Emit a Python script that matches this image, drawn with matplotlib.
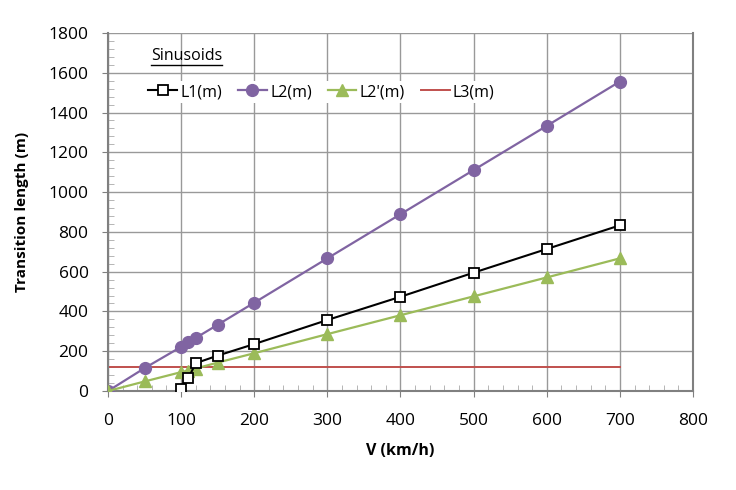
import matplotlib.pyplot as plt
from matplotlib.lines import Line2D
from matplotlib.ticker import MultipleLocator

# speeds (km/h)
v_l1 = [100, 110, 120, 150, 200, 300, 400, 500, 600, 700]
v_l2 = [0, 50, 100, 110, 120, 150, 200, 300, 400, 500, 600, 700]
v_l3 = [0, 700]

# transition lengths (m)
l1 = [10, 65, 140, 178, 236, 357, 474, 595, 714, 833]
l2 = [0, 115, 222, 244, 267, 333, 444, 667, 889, 1111, 1333, 1556]
l2p = [0, 48, 95, 103, 113, 143, 190, 286, 381, 476, 571, 667]
l3 = [120, 120]

plt.rcParams['font.family'] = ['Open Sans', 'DejaVu Sans']

fig = plt.figure(figsize=(7.36, 4.9), dpi=100)
ax = fig.add_axes([0.1467, 0.202, 0.7949, 0.7307])

grid_c = '#999999'
ax.grid(True, which='major', color=grid_c, lw=1.0)
ax.set_axisbelow(True)

ax.plot(v_l1, l1, color='black', lw=1.5, marker='s', ms=7.5,
        mfc='white', mec='black', mew=1.3, label='L1(m)', zorder=4)
ax.plot(v_l2, l2, color='#8064A2', lw=1.6, marker='o', ms=8.5,
        mec='#8064A2', label='L2(m)', zorder=3)
ax.plot(v_l2, l2p, color='#9BBB59', lw=1.6, marker='^', ms=8.5,
        mec='#9BBB59', label="L2'(m)", zorder=3)
ax.plot(v_l3, l3, color='#C0504D', lw=1.4, label='L3(m)', zorder=2)

ax.set_xlim(0, 800)
ax.set_ylim(0, 1800)
ax.xaxis.set_major_locator(MultipleLocator(100))
ax.xaxis.set_minor_locator(MultipleLocator(20))
ax.yaxis.set_major_locator(MultipleLocator(200))
ax.yaxis.set_minor_locator(MultipleLocator(40))
ax.tick_params(which='major', direction='out', length=4, color='#808080',
               labelsize=12.5)
ax.tick_params(axis='x', which='major', pad=12)
ax.tick_params(axis='y', which='major', pad=10)
ax.tick_params(which='minor', direction='in', length=4, color='#aaaaaa')

ax.spines['top'].set_visible(False)
for s in ['left', 'bottom', 'right']:
    ax.spines[s].set_color('#808080')
    ax.spines[s].set_linewidth(1.5)

ax.set_xlabel('V (km/h)', fontsize=11.5, fontweight='bold', labelpad=10)
ax.set_ylabel('Transition length (m)', fontsize=11, fontweight='bold', labelpad=14)

leg = ax.legend(loc='center left', bbox_to_anchor=(0.05, 0.835), ncol=4,
                frameon=True, fontsize=11.5, handlelength=1.8,
                handletextpad=0.2, columnspacing=1.0, borderpad=0.2,
                fancybox=False)
leg.get_frame().set_facecolor('white')
leg.get_frame().set_edgecolor('none')
leg.get_frame().set_alpha(1)

title = ax.text(0.073, 0.935, 'Sinusoids', transform=ax.transAxes,
                fontsize=11.5, va='center', ha='left', zorder=6)
fig.canvas.draw()
bb = title.get_window_extent().transformed(ax.transAxes.inverted())
ax.add_line(Line2D([bb.x0, bb.x1], [bb.y0 - 0.002, bb.y0 - 0.002],
                   transform=ax.transAxes, color='black', lw=1.0, zorder=6))

fig.savefig('out.png', dpi=100)
